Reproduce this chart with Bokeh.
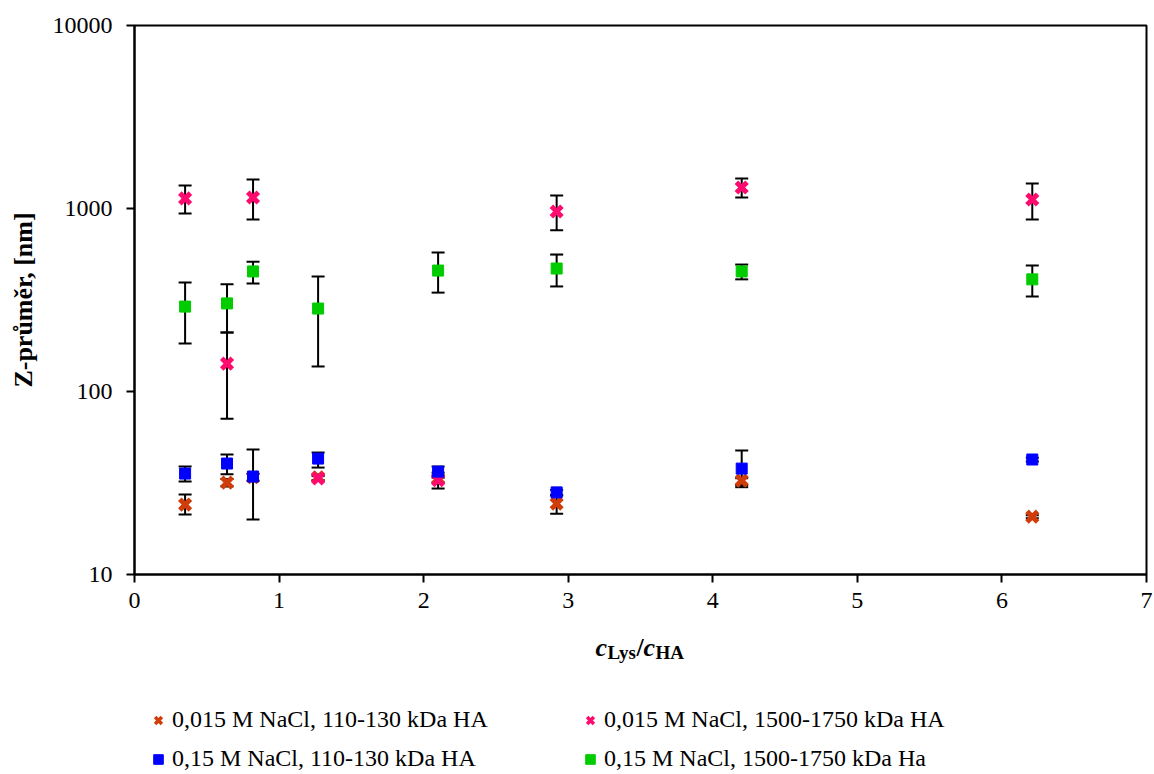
from bokeh.plotting import figure
from bokeh.layouts import column
from bokeh.models import (ColumnDataSource, Whisker, TeeHead, Legend, LegendItem,
                          FixedTicker, Label, Range1d, NumeralTickFormatter)
from bokeh.embed import file_html
from bokeh.resources import INLINE

# ---- data ----
ratio = [0.35, 0.64, 0.82, 1.27, 2.10, 2.92, 4.20, 6.21]

s1_name = "0,015 M NaCl, 110-130 kDa HA"
s1_y = [24.1, 31.8, 34.0, 34.0, 33.5, 24.4, 32.6, 20.7]
s1_lo = [21.3, 30.3, 32.5, 32.8, 29.5, 21.5, 30.0, 20.3]
s1_hi = [27.4, 33.3, 35.5, 35.2, 36.0, 27.0, 33.6, 21.1]

s2_name = "0,015 M NaCl, 1500-1750 kDa HA"
s2_y = [1135, 142, 1148, 33.5, 32.8, 963, 1303, 1120]
s2_lo = [939, 71, 871, 32.5, 31.8, 761, 1150, 871]
s2_hi = [1336, 210, 1440, 34.5, 33.8, 1178, 1460, 1370]

s3_name = "0,15 M NaCl, 110-130 kDa HA"
s3_y = [35.6, 40.4, 34.3, 43.0, 36.5, 28.1, 37.9, 42.5]
s3_lo = [32.2, 35.3, 20.0, 38.4, 34.5, 27.2, 30.8, 41.5]
s3_hi = [38.9, 45.2, 48.2, 46.4, 38.9, 29.0, 47.6, 43.5]

s4_name = "0,15 M NaCl, 1500-1750 kDa Ha"
s4_y = [291, 303, 453, 284, 458, 470, 453, 410]
s4_lo = [183, 210, 389, 137, 347, 375, 410, 330]
s4_hi = [394, 385, 512, 425, 575, 560, 494, 488]

x_ticks = [0, 1, 2, 3, 4, 5, 6, 7]
y_ticks = [10, 100, 1000, 10000]

FONT = "Liberation Serif"

p = figure(width=1154, height=624, y_axis_type="log",
           x_range=Range1d(0, 7), y_range=Range1d(10, 10000),
           output_backend="svg", toolbar_location=None,
           min_border_left=134, min_border_right=8,
           min_border_top=25, min_border_bottom=50,
           background_fill_color="white", border_fill_color="white")

p.xgrid.visible = False
p.ygrid.visible = False
p.outline_line_color = "black"
p.outline_line_width = 2
p.outline_line_alpha = 1

for ax in (p.xaxis, p.yaxis):
    ax.axis_line_width = 2
    ax.axis_line_color = "black"
    ax.major_tick_line_width = 2
    ax.major_tick_line_color = "black"
    ax.major_tick_in = 0
    ax.major_tick_out = 8
    ax.minor_tick_line_color = None
    ax.major_label_text_font = FONT
    ax.major_label_text_font_size = "24px"
    ax.major_label_text_color = "black"

p.xaxis.ticker = FixedTicker(ticks=x_ticks)
p.xaxis.major_label_standoff = 10
p.yaxis.ticker = FixedTicker(ticks=y_ticks)
p.yaxis.formatter = NumeralTickFormatter(format="0")
p.yaxis.major_label_standoff = 14
p.yaxis.axis_label = "Z-průměr, [nm]"
p.yaxis.axis_label_text_font = FONT
p.yaxis.axis_label_text_font_size = "26px"
p.yaxis.axis_label_text_font_style = "bold"
p.yaxis.axis_label_text_color = "black"
p.yaxis.axis_label_standoff = 12

series = [
    (s1_name, s1_y, s1_lo, s1_hi, "x", "#D03C0A", 15),
    (s2_name, s2_y, s2_lo, s2_hi, "x", "#FF0A6E", 15),
    (s3_name, s3_y, s3_lo, s3_hi, "square", "#0000FF", 11),
    (s4_name, s4_y, s4_lo, s4_hi, "square", "#00CC00", 11),
]

# error bars first (under markers)
for name, ys, lo, hi, mk, col, sz in series:
    src = ColumnDataSource(dict(x=ratio, y=ys, lo=lo, hi=hi))
    w = Whisker(source=src, base="x", upper="hi", lower="lo",
                line_color="black", line_width=2, level="underlay",
                upper_head=TeeHead(size=13, line_width=2, line_color="black"),
                lower_head=TeeHead(size=13, line_width=2, line_color="black"))
    p.add_layout(w)

for name, ys, lo, hi, mk, col, sz in series:
    src = ColumnDataSource(dict(x=ratio, y=ys))
    if mk == "x":
        p.scatter("x", "y", source=src, marker="x", size=sz,
                  line_color=col, line_width=5)
    else:
        p.scatter("x", "y", source=src, marker="square", size=sz,
                  fill_color=col, line_color=col)

# ---- lower strip: x-axis title and legend ----
# (the column layout aligns this strip's frame with the main frame: 134..1146)
p2 = figure(width=1154, height=150, x_range=Range1d(0, 7), y_range=Range1d(0, 1),
            output_backend="svg", toolbar_location=None,
            x_axis_location=None, y_axis_location=None,
            min_border_left=0, min_border_right=0, min_border_top=0, min_border_bottom=0,
            background_fill_color="white", border_fill_color="white")
p2.xgrid.visible = False
p2.ygrid.visible = False
p2.outline_line_color = None

renderers = []
for name, ys, lo, hi, mk, col, sz in series:
    # same data; it lies outside this strip's y range, so only the legend glyph shows
    src = ColumnDataSource(dict(x=ratio, y=ys))
    if mk == "x":
        r = p2.scatter("x", "y", source=src, marker="x", size=11,
                       line_color=col, line_width=3.5)
    else:
        r = p2.scatter("x", "y", source=src, marker="square", size=10,
                       fill_color=col, line_color=col)
    renderers.append((name, r))

def make_legend(entries, x):
    return Legend(items=[LegendItem(label=n, renderers=[r]) for n, r in entries],
                  orientation="vertical", location=(x, 2), spacing=12,
                  label_text_font=FONT, label_text_font_size="24px",
                  label_text_color="black", glyph_width=24, glyph_height=24,
                  label_standoff=2, padding=0, margin=0,
                  border_line_color=None, background_fill_alpha=0)

p2.add_layout(make_legend([renderers[0], renderers[2]], 12), "center")
p2.add_layout(make_legend([renderers[1], renderers[3]], 444), "center")

# x-axis title: c_Lys / c_HA  (screen offsets inside the strip's frame)
parts = [
    ("c", 461, 127, "26px", "bold italic"),
    ("Lys", 473, 122, "19px", "bold"),
    ("/", 502, 127, "26px", "bold"),
    ("c", 509, 127, "26px", "bold italic"),
    ("HA", 521, 122, "19px", "bold"),
]
for txt, sx, sy, fs, style in parts:
    p2.add_layout(Label(x=sx, y=sy, x_units="screen", y_units="screen", text=txt,
                        text_font=FONT, text_font_size=fs, text_font_style=style,
                        text_color="black", text_baseline="alphabetic",
                        text_align="left"))

layout = column(p, p2, spacing=0)
open("out.html", "w").write(file_html(layout, INLINE))
